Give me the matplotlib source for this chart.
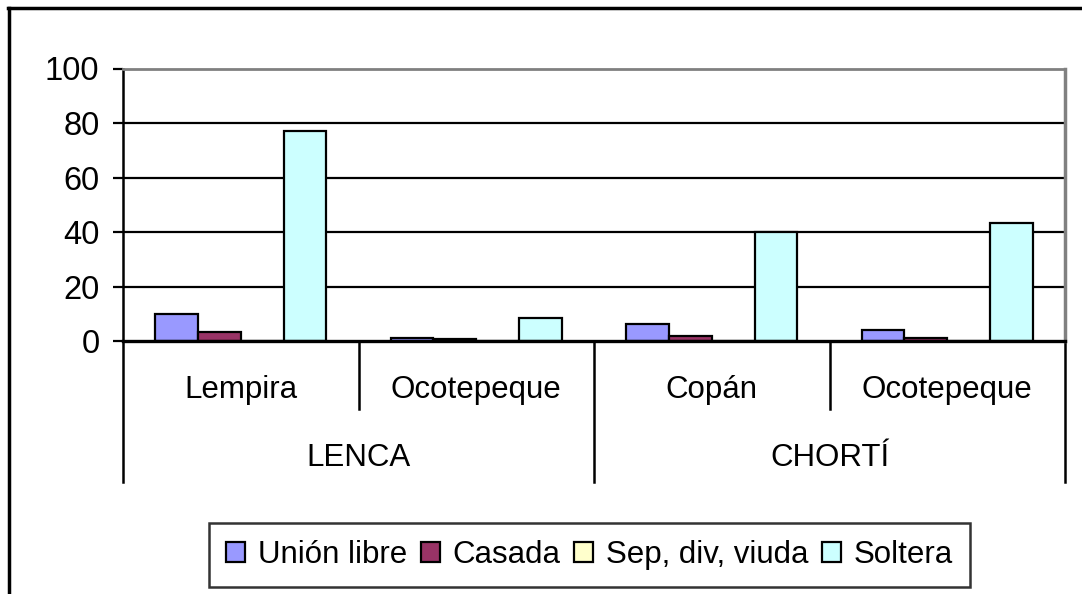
import numpy as np
import matplotlib.pyplot as plt
from matplotlib.lines import Line2D
from matplotlib.patches import Patch

plt.rcParams['font.family'] = ['Liberation Sans', 'DejaVu Sans']

lugares = ['Lempira', 'Ocotepeque', 'Copán', 'Ocotepeque']
etnias = ['LENCA', 'CHORTÍ']
series = ['Unión libre', 'Casada', 'Sep, div, viuda', 'Soltera']
union_libre = [10, 1, 6.3, 4.2]
casada = [3.3, 0.8, 2, 1.3]
sep_div_viuda = [0, 0, 0, 0]
soltera = [77, 8.5, 40, 43.2]
colores = ['#9999FF', '#993366', '#FFFFCC', '#CCFFFF']
yticks = [0, 20, 40, 60, 80, 100]

fig = plt.figure(figsize=(10.82, 5.94), dpi=100)
ax = fig.add_axes([123 / 1082, 1 - 341.2 / 594, (1065 - 123) / 1082, (341.2 - 68.5) / 594])

valores = [union_libre, casada, sep_div_viuda, soltera]
n = len(series)
ancho = 1 / (n + 1.5)
centros = np.arange(len(lugares)) + 0.5
for i, (nombre, vals) in enumerate(zip(series, valores)):
    xs = centros - n * ancho / 2 + (i + 0.5) * ancho
    ax.bar(xs, vals, width=ancho, color=colores[i], edgecolor='black', linewidth=1.6, zorder=3)

ax.set_xlim(0, len(lugares))
ax.set_ylim(0, 100)
ax.set_yticks(yticks)
ax.tick_params(axis='y', length=7, width=1.6, labelsize=23.5, pad=10, direction='out')
ax.set_xticks([])
for y in yticks[1:-1]:
    ax.axhline(y, color='black', linewidth=1.6, zorder=1)
ax.spines['left'].set_linewidth(1.8)
ax.spines['bottom'].set_linewidth(2.4)
ax.spines['bottom'].set_zorder(4)
ax.spines['top'].set_color('#808080')
ax.spines['right'].set_color('#808080')
ax.spines['top'].set_linewidth(2)
ax.spines['right'].set_linewidth(2.5)

# category separators under the axis
trans = ax.get_xaxis_transform()
for x in [1, 3]:
    ax.plot([x, x], [0, -0.25], color='black', linewidth=1.8, transform=trans, clip_on=False)
for x in [0, 2, 4]:
    ax.plot([x, x], [0, -0.515], color='black', linewidth=1.8, transform=trans, clip_on=False)
for c, lugar in zip(centros, lugares):
    ax.text(c, -0.18, lugar, ha='center', va='center', fontsize=22.5, transform=trans)
for k, etnia in enumerate(etnias):
    ax.text(2 * k + 1, -0.43, etnia, ha='center', va='center', fontsize=22.5, transform=trans)

# outer frame (only top and left visible)
fig.add_artist(Line2D([8 / 1082, 1], [1 - 8 / 594, 1 - 8 / 594], color='black', linewidth=2.5))
fig.add_artist(Line2D([9 / 1082, 9 / 1082], [0, 1 - 8 / 594], color='black', linewidth=2.5))

handles = [Patch(facecolor=c, edgecolor='black', linewidth=1.6) for c in colores]
leg = fig.legend(handles, series, loc='center', bbox_to_anchor=(589.5 / 1082, 1 - 555 / 594),
                 ncol=4, frameon=True, fontsize=22.5, handlelength=0.6, handleheight=0.6,
                 handletextpad=0.4, columnspacing=0.45, borderpad=0.55, borderaxespad=0,
                 fancybox=False)
leg.get_frame().set_edgecolor('black')
leg.get_frame().set_linewidth(1.8)

fig.savefig('out.png', dpi=100)
